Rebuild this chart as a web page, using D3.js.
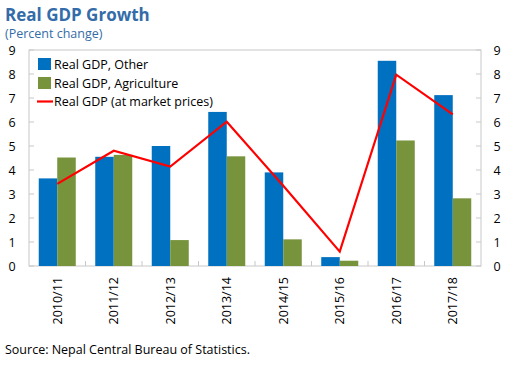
<!DOCTYPE html>
<html><head><meta charset="utf-8">
<script src="https://cdn.jsdelivr.net/npm/d3@7"></script>
<style>body{margin:0;background:#fff}svg{display:block;font-family:"Open Sans",sans-serif}</style>
</head><body><svg id="c" width="517" height="367"></svg>
<script>
const categories = ["2010/11","2011/12","2012/13","2013/14","2014/15","2015/16","2016/17","2017/18"];
const otherValues = [3.65, 4.55, 5.0, 6.42, 3.9, 0.37, 8.55, 7.12];
const agriValues  = [4.52, 4.63, 1.08, 4.57, 1.11, 0.22, 5.23, 2.82];
const gdpValues   = [3.42, 4.8, 4.14, 6.01, 3.34, 0.6, 7.97, 6.32];
const yTicks = [0,1,2,3,4,5,6,7,8,9];
const seriesNames = ["Real GDP, Other","Real GDP, Agriculture","Real GDP (at market prices)"];

const svg = d3.select("#c");
const L = 29, R = 481, T = 50, B = 266;
const x = d3.scaleBand().domain(categories).range([L, R]);
const y = d3.scaleLinear().domain([0, 9]).range([B, T]);
const bw = 18.5;

svg.append("text").attr("x",5).attr("y",21).attr("fill","#336ca8")
  .attr("font-size",17).attr("font-weight","bold").text("Real GDP Growth");
svg.append("text").attr("x",5).attr("y",38).attr("fill","#336ca8")
  .attr("font-size",12.5).text("(Percent change)");

svg.append("rect").attr("x",L).attr("y",T).attr("width",R-L).attr("height",B-T)
  .attr("fill","none").attr("stroke","#c8c8c8").attr("stroke-width",1);

// ticks
yTicks.forEach(t=>{
  svg.append("line").attr("x1",L).attr("x2",L+5).attr("y1",y(t)).attr("y2",y(t)).attr("stroke","#c8c8c8");
  svg.append("line").attr("x1",R-5).attr("x2",R).attr("y1",y(t)).attr("y2",y(t)).attr("stroke","#c8c8c8");
  svg.append("text").attr("x",12).attr("y",y(t)+4.5).attr("text-anchor","middle").attr("font-size",12.5).attr("fill","#000").text(t);
  svg.append("text").attr("x",497).attr("y",y(t)+4.5).attr("text-anchor","middle").attr("font-size",12.5).attr("fill","#000").text(t);
});
categories.forEach((c,i)=>{
  if(i>0) svg.append("line").attr("x1",x(c)).attr("x2",x(c)).attr("y1",B).attr("y2",B-5).attr("stroke","#c8c8c8");
  const cx = x(c)+x.bandwidth()/2;
  svg.append("text").attr("transform",`translate(${cx+4.5},277) rotate(-90)`)
    .attr("text-anchor","end").attr("font-size",12.5).attr("fill","#000").text(c);
});

const g = svg.append("g");
categories.forEach((c,i)=>{
  const cx = x(c)+x.bandwidth()/2;
  g.append("rect").attr("x",cx-bw).attr("width",bw).attr("y",y(otherValues[i])).attr("height",y(0)-y(otherValues[i])).attr("fill","#0070c0");
  g.append("rect").attr("x",cx).attr("width",bw).attr("y",y(agriValues[i])).attr("height",y(0)-y(agriValues[i])).attr("fill","#77933c");
});
const line = d3.line().x((d,i)=>x(categories[i])+x.bandwidth()/2).y(d=>y(d));
svg.append("path").attr("d",line(gdpValues)).attr("fill","none").attr("stroke","#ff0000").attr("stroke-width",2.2);

// legend
const ly = [64, 83, 101.5];
svg.append("rect").attr("x",38).attr("y",ly[0]-6).attr("width",13).attr("height",12).attr("fill","#0070c0");
svg.append("rect").attr("x",38).attr("y",ly[1]-6).attr("width",13).attr("height",12).attr("fill","#77933c");
svg.append("line").attr("x1",37).attr("x2",53).attr("y1",ly[2]).attr("y2",ly[2]).attr("stroke","#ff0000").attr("stroke-width",2.2);
seriesNames.forEach((s,i)=>{
  svg.append("text").attr("x",54).attr("y",ly[i]+4.5).attr("font-size",12.5).attr("fill","#000").text(s);
});

svg.append("text").attr("x",5).attr("y",354).attr("font-size",12.5).attr("fill","#000").text("Source: Nepal Central Bureau of Statistics.");
</script></body></html>
